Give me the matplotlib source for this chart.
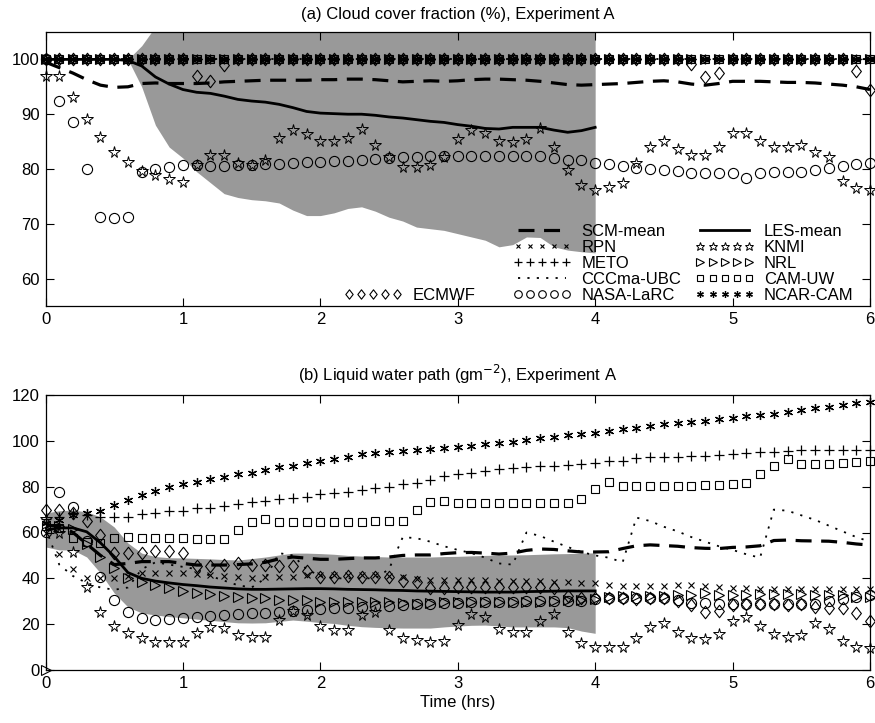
import numpy as np
import matplotlib
matplotlib.use("Agg")
import matplotlib.pyplot as plt
from matplotlib.path import Path

plt.rcParams['font.family'] = ['Liberation Sans', 'DejaVu Sans']
plt.rcParams['font.size'] = 12

# time axis (hours), output every 6 minutes
hours = np.arange(61) / 10.0
hours_les = hours[:41]

# ---------------- (a) cloud cover fraction (%) ----------------
cc_rpn = [100.0] * 61
cc_meto = [100.0] * 61
cc_cccma = [100.0] * 61
cc_nrl = [100.0] * 61
cc_camuw = [100.0] * 61
cc_ncar = [100.0] * 61
cc_ecmwf = [100, 100, 100, 100, 100, 100, 100, 100, 100, 100,
            100, 96.9, 96.0, 98.9, 100, 100, 100, 100, 100, 100,
            100, 100, 100, 100, 100, 100, 100, 100, 100, 100,
            100, 100, 100, 100, 100, 100, 100, 100, 100, 100,
            100, 100, 100, 100, 100, 100, 100, 99.1, 96.7, 97.6,
            100, 100, 100, 100, 100, 100, 100, 100, 100, 97.8, 94.5]
cc_knmi = [96.9, 96.9, 93.1, 89.1, 85.8, 83.1, 81.3, 79.6, 78.9, 78.2,
           77.6, 80.7, 82.6, 82.5, 81.1, 80.7, 81.6, 85.6, 87.1, 86.4,
           85.1, 85.1, 85.6, 87.3, 84.4, 82.2, 80.4, 80.4, 80.7, 82.1,
           85.5, 87.1, 86.5, 85.1, 84.9, 85.5, 87.5, 84.0, 79.8, 77.1,
           76.2, 76.7, 77.5, 81.1, 84.0, 85.1, 83.6, 82.5, 82.5, 84.0,
           86.5, 86.5, 85.1, 84.0, 84.0, 84.4, 83.1, 82.2, 77.8, 76.5, 76.2]
cc_nasa = [100, 92.4, 88.5, 80.0, 71.3, 71.0, 71.3, 79.5, 80.0, 80.4,
           80.7, 80.7, 80.6, 80.6, 80.7, 80.8, 80.9, 81.0, 81.1, 81.2,
           81.3, 81.4, 81.5, 81.6, 81.8, 82.0, 82.1, 82.2, 82.4, 82.3,
           82.4, 82.4, 82.4, 82.4, 82.4, 82.4, 82.3, 82.0, 81.6, 81.6,
           81.1, 80.9, 80.5, 80.2, 80.0, 79.8, 79.6, 79.3, 79.3, 79.3,
           79.3, 78.4, 79.3, 79.4, 79.4, 79.4, 79.8, 80.2, 80.5, 80.9, 81.1]
cc_scm = [99.5, 98.5, 97.5, 96.3, 95.3, 94.9, 95.0, 95.6, 95.7, 95.6,
          95.6, 95.6, 95.7, 95.9, 96.0, 96.1, 96.2, 96.2, 96.2, 96.2,
          96.3, 96.3, 96.4, 96.4, 96.3, 96.1, 95.9, 96.0, 96.1, 96.0,
          96.1, 96.3, 96.4, 96.4, 96.3, 96.2, 96.0, 95.7, 95.4, 95.3,
          95.4, 95.5, 95.6, 95.8, 96.0, 96.1, 95.9, 95.5, 95.3, 95.6,
          96.0, 96.0, 96.0, 95.9, 95.8, 95.8, 95.7, 95.5, 95.3, 95.0, 94.5]
cc_les = [100, 100, 100, 100, 100, 100, 99.8, 98.8, 96.8, 95.5,
          94.5, 94.0, 93.8, 93.3, 92.7, 92.4, 92.2, 91.8, 91.2, 90.5,
          90.2, 90.1, 90.0, 90.0, 89.8, 89.5, 89.3, 89.0, 88.7, 88.5,
          88.1, 87.8, 87.4, 87.3, 87.6, 87.6, 87.6, 87.1, 86.7, 87.0, 87.6]
cc_les_lo = [100, 100, 100, 100, 100, 100, 100, 95.0, 88.0, 84.0,
             82.0, 79.5, 77.5, 75.5, 74.8, 74.4, 74.2, 73.8, 72.5, 71.5,
             71.5, 72.0, 72.8, 73.1, 72.3, 71.2, 70.5, 69.4, 69.1, 68.8,
             68.2, 67.6, 67.0, 65.8, 66.2, 67.6, 67.5, 65.8, 65.2, 64.9, 64.7]
cc_les_hi = [100, 100, 100, 100, 100, 100, 100, 102.5, 106, 106,
             106, 106, 106, 106, 106, 106, 106, 106, 106, 106,
             106, 106, 106, 106, 106, 106, 106, 106, 106, 106,
             106, 106, 106, 106, 106, 106, 106, 106, 106, 106, 106]

# ---------------- (b) liquid water path (g m-2) ----------------
lwp_ncar = [64.0, 65.5, 67.6, 68.3, 69.6, 72.2, 74.2, 76.4, 78.1, 79.9,
            81.2, 82.0, 83.3, 84.2, 85.5, 86.0, 87.3, 88.6, 89.0, 90.3,
            91.2, 92.1, 92.9, 94.3, 94.7, 95.1, 95.6, 96.0, 96.4, 96.9,
            97.3, 97.7, 98.6, 99.0, 99.5, 100.4, 101.2, 101.7, 102.5, 103.0,
            103.4, 104.3, 105.2, 105.6, 106.5, 107.3, 107.8, 108.2, 108.7, 109.5,
            110.0, 110.8, 111.3, 111.7, 112.6, 113.5, 114.3, 114.8, 115.6, 116.5, 116.9]
lwp_meto = [66.0, 66.9, 68.5, 67.6, 66.8, 66.8, 66.8, 68.1, 68.5, 69.4,
            69.4, 70.7, 70.7, 71.6, 72.4, 73.3, 73.7, 74.6, 75.1, 75.5,
            76.8, 77.2, 77.7, 78.5, 79.4, 79.9, 81.2, 81.6, 83.0, 84.5,
            85.5, 86.0, 87.0, 87.5, 88.3, 88.6, 89.0, 89.2, 89.5, 90.0,
            90.3, 91.0, 91.4, 92.3, 92.8, 92.8, 92.8, 93.4, 93.4, 93.8,
            94.2, 94.7, 95.1, 95.1, 95.5, 96.0, 96.0, 96.0, 96.0, 96.0, 96.0]
lwp_camuw = [63.0, 62.0, 57.6, 56.0, 55.4, 57.6, 58.2, 57.6, 57.6, 57.6,
             57.6, 57.2, 57.2, 57.2, 61.1, 64.7, 65.8, 64.7, 64.7, 64.7,
             64.7, 64.7, 64.7, 64.7, 64.9, 64.9, 65.0, 69.8, 73.1, 73.8,
             72.9, 72.7, 72.7, 72.7, 72.7, 72.8, 72.8, 72.9, 72.9, 74.7,
             78.9, 82.0, 80.3, 80.3, 80.3, 80.3, 80.5, 80.5, 80.7, 80.9,
             81.2, 81.5, 85.5, 89.0, 92.0, 90.0, 90.0, 90.1, 90.3, 90.7, 91.0]
lwp_rpn = [60.0, 50.6, 44.0, 40.1, 40.1, 40.1, 41.0, 42.3, 42.3, 42.3,
           42.3, 41.9, 41.5, 41.0, 40.6, 40.1, 40.6, 40.6, 40.6, 41.5,
           41.5, 41.5, 41.5, 41.5, 41.5, 41.0, 40.6, 39.7, 39.3, 39.3,
           39.1, 39.1, 39.1, 38.9, 38.9, 38.9, 38.9, 38.4, 38.4, 38.0,
           37.8, 37.3, 36.7, 36.7, 36.7, 36.7, 37.1, 37.1, 36.7, 36.2,
           35.8, 35.8, 35.3, 35.3, 35.3, 35.3, 35.3, 35.3, 35.3, 35.3, 35.3]
lwp_nrl = [0.0, 63.0, 61.7, 55.0, 49.3, 44.5, 40.1, 38.4, 37.1, 35.8,
           34.5, 33.6, 33.2, 32.3, 31.9, 31.4, 31.4, 30.5, 30.5, 30.5,
           29.7, 29.7, 29.7, 29.7, 29.7, 29.7, 29.2, 28.8, 29.2, 29.5,
           29.5, 29.5, 29.5, 29.5, 29.5, 29.7, 29.7, 30.1, 30.7, 30.7,
           31.2, 31.9, 32.1, 32.1, 32.1, 32.1, 32.7, 32.7, 33.6, 32.7,
           32.7, 32.7, 33.2, 33.2, 33.2, 33.2, 32.7, 32.7, 32.7, 31.9, 31.9]
lwp_nasa = [60.3, 77.6, 71.1, 56.3, 40.6, 30.5, 25.3, 22.7, 21.8, 22.3,
            22.7, 23.1, 23.6, 24.0, 24.4, 24.9, 24.9, 25.3, 25.8, 26.2,
            26.6, 27.1, 27.1, 27.5, 28.0, 28.0, 28.4, 28.8, 28.8, 29.2,
            29.4, 29.5, 29.6, 29.7, 29.8, 29.9, 30.0, 30.0, 30.1, 30.1,
            31.0, 31.4, 31.4, 31.4, 31.4, 31.4, 30.5, 29.2, 29.2, 28.8,
            28.8, 28.8, 28.8, 28.8, 28.8, 28.8, 28.8, 30.1, 31.0, 31.9, 32.7]
lwp_ecmwf = [69.8, 69.8, 68.5, 65.0, 58.9, 51.1, 51.1, 51.1, 51.9, 51.9,
             51.1, 45.4, 45.4, 45.8, 46.5, 45.8, 46.0, 45.6, 45.2, 43.2,
             40.6, 40.8, 41.0, 40.8, 40.6, 40.6, 39.0, 38.4, 35.8, 36.0,
             36.2, 36.2, 36.2, 36.2, 36.2, 36.2, 36.2, 35.6, 32.3, 31.4,
             31.4, 31.4, 31.4, 31.0, 31.4, 31.4, 29.9, 28.4, 25.3, 25.8,
             28.4, 28.8, 28.8, 28.8, 28.4, 28.8, 27.5, 26.9, 27.1, 24.9, 21.4]
lwp_knmi = [66.0, 60.0, 51.7, 36.2, 25.3, 19.2, 16.1, 14.0, 12.2, 12.2,
            12.2, 16.1, 18.8, 18.3, 15.3, 14.2, 14.4, 22.0, 25.8, 24.2,
            19.0, 17.5, 17.5, 23.8, 25.3, 17.5, 13.8, 13.1, 12.2, 12.7,
            19.6, 24.4, 23.1, 17.9, 16.6, 16.6, 21.4, 24.4, 16.6, 11.8,
            10.1, 10.1, 10.1, 14.0, 18.8, 20.5, 16.6, 14.0, 13.5, 15.7,
            21.4, 23.1, 19.2, 15.7, 14.4, 15.3, 20.5, 17.9, 12.7, 10.1, 9.5]
lwp_cccma = [62.0, 46.0, 41.0, 38.0, 36.0, 35.0, 36.0, 44.0, 47.0, 46.0,
             45.0, 44.0, 41.0, 39.0, 37.0, 36.0, 40.0, 51.0, 50.0, 44.0,
             41.0, 40.0, 40.0, 40.0, 40.0, 44.0, 58.0, 57.5, 56.0, 54.0,
             52.4, 51.0, 49.0, 46.5, 46.0, 60.0, 58.5, 56.0, 53.7, 51.5,
             50.0, 49.0, 47.0, 66.5, 65.0, 62.5, 60.5, 58.0, 56.0, 54.0,
             52.4, 50.5, 49.0, 70.0, 69.5, 67.5, 65.5, 63.0, 60.5, 58.0, 56.0]
lwp_scm = [63.0, 63.0, 60.0, 55.0, 50.0, 46.0, 46.5, 47.3, 47.3, 47.3,
           46.5, 45.8, 45.8, 45.8, 46.0, 46.3, 47.0, 48.5, 49.3, 48.8,
           48.3, 48.3, 48.6, 48.9, 48.9, 49.3, 50.0, 50.2, 50.2, 50.8,
           51.2, 51.3, 51.0, 50.6, 51.0, 52.2, 52.8, 52.6, 52.0, 51.5,
           51.5, 51.6, 53.0, 54.2, 54.6, 54.3, 54.0, 53.4, 53.1, 53.0,
           53.5, 53.7, 54.2, 56.5, 56.7, 56.4, 56.3, 56.2, 55.7, 55.0, 54.5]
lwp_les = [61.0, 62.0, 62.0, 60.3, 55.5, 49.5, 42.5, 40.0, 38.8, 38.0,
           37.3, 36.8, 36.2, 35.8, 35.4, 35.2, 35.2, 35.3, 35.4, 35.5,
           35.5, 35.4, 35.2, 35.1, 35.0, 34.8, 34.7, 34.5, 34.4, 34.3,
           34.2, 34.1, 34.0, 34.0, 34.0, 34.2, 34.3, 34.4, 34.5, 34.5, 34.5]
lwp_les_hi = [68.5, 69.5, 69.8, 69.0, 66.8, 62.4, 55.4, 51.0, 49.5, 49.0,
              48.9, 48.7, 48.5, 48.2, 48.0, 48.6, 49.3, 50.2, 51.0, 51.0,
              50.8, 50.5, 50.0, 49.7, 49.5, 49.3, 49.3, 49.3, 49.3, 49.5,
              49.6, 49.8, 50.0, 50.1, 50.2, 50.3, 50.5, 50.7, 50.8, 51.0, 51.1]
lwp_les_lo = [53.7, 52.4, 52.4, 49.3, 42.3, 33.6, 27.5, 24.9, 24.0, 23.3,
              22.8, 22.2, 21.7, 21.1, 20.6, 20.5, 20.6, 21.2, 21.8, 21.3,
              20.7, 20.3, 19.5, 18.9, 18.6, 18.4, 18.3, 18.3, 18.3, 18.8,
              19.2, 19.5, 19.6, 19.2, 18.8, 18.8, 18.8, 18.8, 18.5, 17.0, 16.0]

x_ticks = [0, 1, 2, 3, 4, 5, 6]
cc_ticks = [60, 70, 80, 90, 100]
lwp_ticks = [0, 20, 40, 60, 80, 100, 120]

shade = '#999999'
diamond = Path([(0, 1), (0.78, 0), (0, -1), (-0.78, 0), (0, 1)],
               [Path.MOVETO, Path.LINETO, Path.LINETO, Path.LINETO, Path.CLOSEPOLY])
mk = dict(color='k', linestyle='none', markerfacecolor='none')
styles = {
    'RPN': dict(marker='x', markersize=4.5, markeredgewidth=0.8, **mk),
    'METO': dict(marker='+', markersize=7, markeredgewidth=0.9, **mk),
    'CCCma-UBC': dict(color='k', linestyle=(0, (1.2, 4)), linewidth=1.3),
    'NASA-LaRC': dict(marker='o', markersize=7.3, markeredgewidth=0.8, **mk),
    'ECMWF': dict(marker=diamond, markersize=9, markeredgewidth=0.8, **mk),
    'KNMI': dict(marker='*', markersize=8.5, markeredgewidth=0.7, **mk),
    'NRL': dict(marker='>', markersize=7.5, markeredgewidth=0.8, **mk),
    'CAM-UW': dict(marker='s', markersize=5.8, markeredgewidth=0.8, **mk),
    'NCAR-CAM': dict(marker=(6, 2, 0), markersize=6.5, markeredgewidth=0.9, **mk),
}
scm_style = dict(color='k', linestyle=(0, (5, 3)), linewidth=2.3)
les_style = dict(color='k', linestyle='-', linewidth=2.0)

fig = plt.figure(figsize=(8.75, 7.23), dpi=100)
W, H = 875.0, 723.0
ax1 = fig.add_axes([45.5 / W, 1 - 306 / H, 824.5 / W, 274 / H])
ax2 = fig.add_axes([45.5 / W, 1 - 670 / H, 824.5 / W, 275 / H])

cc = {'RPN': cc_rpn, 'METO': cc_meto, 'CCCma-UBC': cc_cccma, 'NASA-LaRC': cc_nasa,
      'ECMWF': cc_ecmwf, 'KNMI': cc_knmi, 'NRL': cc_nrl, 'CAM-UW': cc_camuw,
      'NCAR-CAM': cc_ncar}
lwp = {'RPN': lwp_rpn, 'METO': lwp_meto, 'CCCma-UBC': lwp_cccma, 'NASA-LaRC': lwp_nasa,
       'ECMWF': lwp_ecmwf, 'KNMI': lwp_knmi, 'NRL': lwp_nrl, 'CAM-UW': lwp_camuw,
       'NCAR-CAM': lwp_ncar}

handles = {}
for ax, data, lo, hi, les, scm in [(ax1, cc, cc_les_lo, cc_les_hi, cc_les, cc_scm),
                                   (ax2, lwp, lwp_les_lo, lwp_les_hi, lwp_les, lwp_scm)]:
    ax.fill_between(hours_les, lo, hi, color=shade, linewidth=0, zorder=1)
    for name, vals in data.items():
        h, = ax.plot(hours, vals, zorder=3, clip_on=False, **styles[name])
        handles[name] = h
    hs, = ax.plot(hours, scm, zorder=4, **scm_style)
    hl, = ax.plot(hours_les, les, zorder=5, **les_style)
    handles['SCM-mean'] = hs
    handles['LES-mean'] = hl
    ax.set_xlim(0, 6)
    ax.set_xticks(x_ticks)
    ax.tick_params(direction='in', top=True, right=True, length=5.5, width=0.8,
                   labelsize=12, pad=4)
    for sp in ax.spines.values():
        sp.set_linewidth(0.9)

ax1.set_ylim(55, 105)
ax1.set_yticks(cc_ticks)
ax2.set_ylim(0, 120)
ax2.set_yticks(lwp_ticks)

ax1.set_title('(a) Cloud cover fraction (%), Experiment A', fontsize=12, pad=9)
ax2.set_title('(b) Liquid water path (gm$^{-2}$), Experiment A', fontsize=12, pad=10)
ax2.set_xlabel('Time (hrs)', fontsize=12, labelpad=3)

# legend (two columns) plus the ECMWF entry placed to the left
order = ['SCM-mean', 'RPN', 'METO', 'CCCma-UBC', 'NASA-LaRC',
         'LES-mean', 'KNMI', 'NRL', 'CAM-UW', 'NCAR-CAM']
leg = ax1.legend([handles[n] for n in order], order, ncol=2, frameon=False,
                 loc='lower left', bbox_to_anchor=(0.555, -0.025), numpoints=5,
                 handlelength=3.5, handletextpad=0.6, columnspacing=0.85,
                 labelspacing=0.06, borderpad=0.1, fontsize=12, markerscale=0.75)
ax1.add_artist(leg)
leg2 = ax1.legend([handles['ECMWF']], ['ECMWF'], frameon=False, loc='lower left',
                  bbox_to_anchor=(0.35, -0.025), numpoints=5, handlelength=3.5,
                  handletextpad=0.6, borderpad=0.1, fontsize=12, markerscale=0.75)

fig.savefig('out.png', dpi=100)
